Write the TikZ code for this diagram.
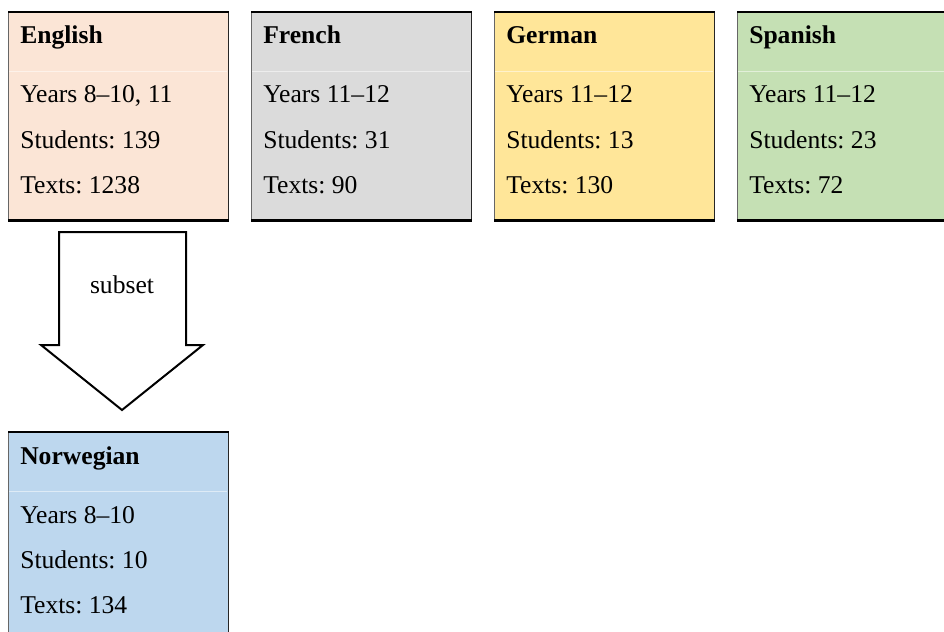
\documentclass[tikz,border=0pt]{standalone}
\usepackage{fontspec}
\setmainfont{Liberation Serif}
\frenchspacing
\usetikzlibrary{positioning}
\definecolor{engfill}{HTML}{FBE5D6}
\definecolor{frefill}{HTML}{DBDBDB}
\definecolor{gerfill}{HTML}{FFE699}
\definecolor{spafill}{HTML}{C5E0B4}
\definecolor{norfill}{HTML}{BDD7EE}
\begin{document}
\begin{tikzpicture}[x=0.75pt, y=-0.75pt,
    langbox/.style={rectangle, minimum width=165pt, minimum height=156pt, inner sep=0pt, anchor=north west},
    langtext/.style={anchor=base west, inner sep=0pt, font=\fontsize{19.2}{23}\selectfont},
    langtitle/.style={langtext, font=\fontsize{19.2}{23}\selectfont\bfseries}]
    \useasboundingbox (0, 0) rectangle (944, 631);
    \clip (0, 0) rectangle (944, 631);
    \fill [white] (0, 0) rectangle (944, 631);
    \foreach \name/\xpos/\ypos/\col/\lang/\yrs/\stu/\txt in {
            eng/8/12/engfill/English/{8--10, 11}/139/1238,
            fre/251/12/frefill/French/11--12/31/90,
            ger/494/12/gerfill/German/11--12/13/130,
            spa/737/12/spafill/Spanish/11--12/23/72,
            nor/8/432/norfill/Norwegian/8--10/10/134} {
        \node [langbox, fill = \col] (\name) at (\xpos, \ypos) {};
        \draw [white, opacity = 0.5, line width = 0.4pt] (\xpos + 1, \ypos + 59) -- (\xpos + 219, \ypos + 59);
        \draw [line width = 0.75pt, black!60] (\name.north west) -- (\name.south west);
        \draw [line width = 0.9pt, black!85] (\name.north east) -- (\name.south east);
        \draw [line width = 1.9pt] (\name.north west) -- (\name.north east) (\name.south west) -- (\name.south east);
        \node [langtitle] (\name-title) at (\xpos + 12, \ypos + 32) {\lang};
        \node [langtext] (\name-years) at (\xpos + 12, \ypos + 91) {Years \yrs};
        \node [langtext] (\name-students) at (\xpos + 12, \ypos + 136) {Students: \stu};
        \node [langtext] (\name-texts) at (\xpos + 12, \ypos + 181) {Texts: \txt};
    }
    % block arrow from English to Norwegian
    \draw [line width = 1.5pt, line join = miter, fill = white]
        (59, 232) -- (186, 232) -- (186, 345) -- (203, 345) -- (122, 410) -- (41, 345) -- (59, 345) -- cycle;
    \node [font = \fontsize{19.2}{23}\selectfont] (subset) at (122, 285) {subset};
\end{tikzpicture}
\end{document}
